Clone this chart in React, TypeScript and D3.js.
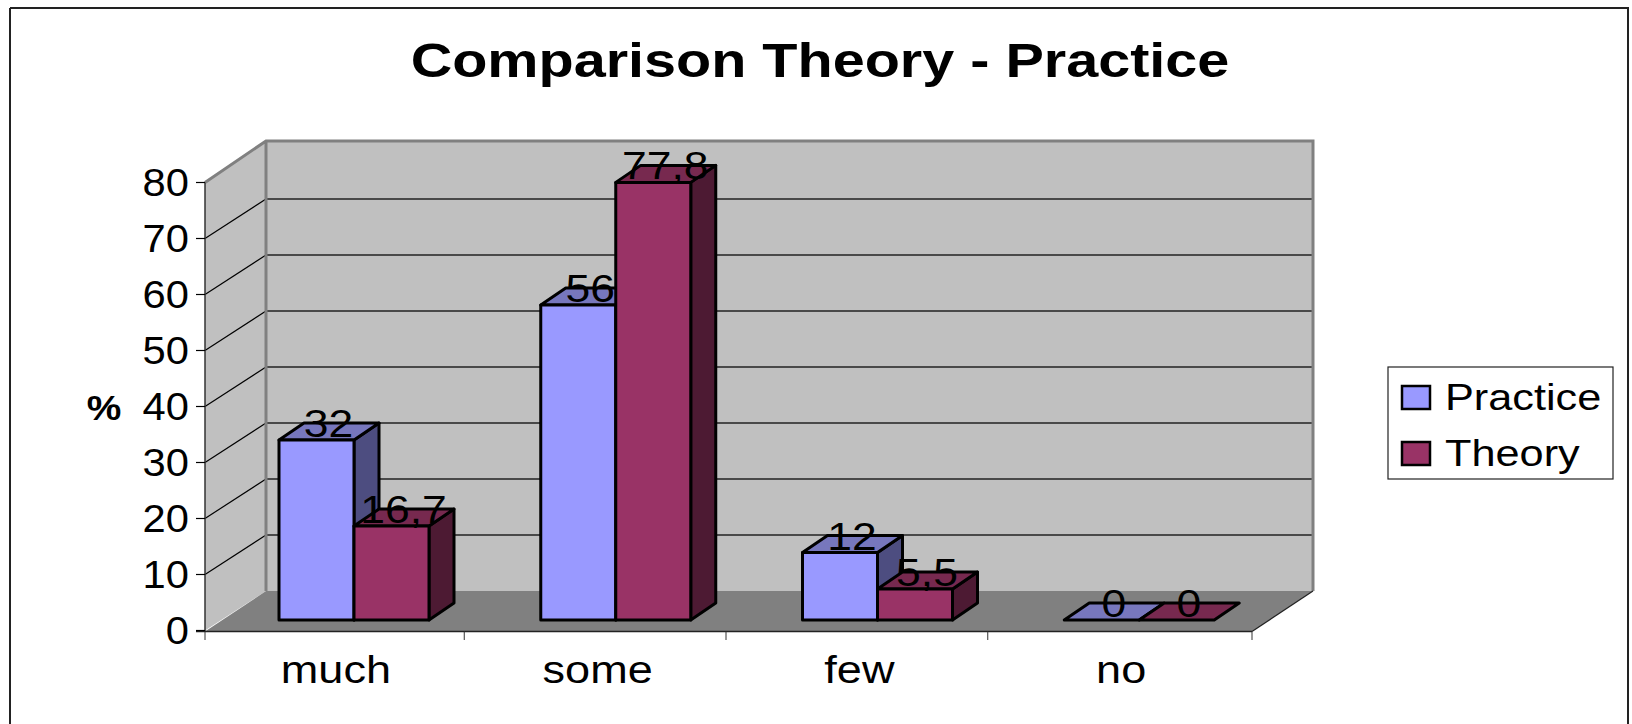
import React from "react";
import * as d3 from "d3";

const categories = ["much", "some", "few", "no"];
const seriesNames = ["Practice", "Theory"];
const practice = [32, 56, 12, 0];
const theory = [16.7, 77.8, 5.5, 0];
const labelsPractice = ["32", "56", "12", "0"];
const labelsTheory = ["16,7", "77,8", "5,5", "0"];
const yTicks = [0, 10, 20, 30, 40, 50, 60, 70, 80];

const faces = [
  { front: "#9999FF", top: "#7777BD", side: "#4D4D80" },
  { front: "#993366", top: "#77294F", side: "#4D1A33" },
];

const FONT = "'Liberation Sans', Arial, sans-serif";

const yFront = d3.scaleLinear().domain([0, 80]).range([630.5, 182.5]);
const yBack = d3.scaleLinear().domain([0, 80]).range([591, 143]);
const yBar = d3.scaleLinear().domain([0, 80]).range([620, 170]);
const xCat = d3.scaleBand<string>().domain(categories).range([205, 1252]);
const xSeries = d3.scaleBand<string>().domain(seriesNames).range([74, 224]);
const wallDx = 61;
const barDx = 25;
const barDy = 17;

function T({ x, y, size, anchor = "middle", weight = "normal", sx = 1.13, children }: any) {
  return (
    <text
      transform={`translate(${x},${y}) scale(${sx},1)`}
      fontFamily={FONT}
      fontSize={size}
      fontWeight={weight}
      textAnchor={anchor}
      fill="#000"
    >
      {children}
    </text>
  );
}

const pts = (p: number[][]) => p.map((q) => q.join(",")).join(" ");

export default function App() {
  const x0 = 205;
  const x1 = 1252;
  const back0 = x0 + wallDx;
  const back1 = x1 + wallDx;
  const series = [practice, theory];
  const labels = [labelsPractice, labelsTheory];
  const bars = categories.flatMap((c, i) =>
    seriesNames.map((s, j) => {
      const left = xCat(c)! + xSeries(s)!;
      return { key: c + s, j, left, right: left + xSeries.bandwidth(), v: series[j][i], label: labels[j][i] };
    })
  );
  return (
    <svg width={1632} height={724} style={{ position: "absolute", left: 0, top: 0, background: "#fff" }}>
      <path d="M10,8 H1628 V724 M10,8 V724" fill="none" stroke="#222" strokeWidth={2} />
      <T x={820} y={77} size={49} weight="bold" sx={1.175}>Comparison Theory - Practice</T>

      <polygon points={pts([[x0, yFront(80)], [back0, 141], [back1, 141], [back1, yBack(0)], [back0, yBack(0)], [x0, yFront(0)]])} fill="#C0C0C0" />
      {yTicks.slice(1, -1).map((t) => (
        <g key={t}>
          <line x1={x0} x2={back0} y1={yFront(t)} y2={yBack(t)} stroke="#000" strokeWidth={1.2} />
          <line x1={back0} x2={back1} y1={yBack(t)} y2={yBack(t)} stroke="#222" strokeWidth={1.4} />
        </g>
      ))}
      <polygon points={pts([[x0, yFront(0) + 1], [back0, yBack(0)], [back1, yBack(0)], [x1, yFront(0) + 1]])} fill="#808080" />
      <path d={`M${x0},${yFront(80)} L${back0},141 H${back1} V${yBack(0)} M${back0},141 V${yBack(0)}`} fill="none" stroke="#808080" strokeWidth={3} />
      <line x1={x1} y1={yFront(0) + 1} x2={back1} y2={yBack(0)} stroke="#222" strokeWidth={1.2} />

      <line x1={x0} x2={x0} y1={yFront(80)} y2={yFront(0) + 1} stroke="#333" strokeWidth={1.5} />
      <line x1={x0 - 9} x2={x1} y1={yFront(0) + 1} y2={yFront(0) + 1} stroke="#222" strokeWidth={1.5} />
      {yTicks.map((t) => (
        <g key={t}>
          <line x1={x0 - 9} x2={x0} y1={yFront(t)} y2={yFront(t)} stroke="#000" strokeWidth={1.2} />
          <T x={189} y={yFront(t) + 13} size={39} anchor="end" sx={1.07}>{t}</T>
        </g>
      ))}
      <T x={104} y={420} size={36} weight="bold" sx={1.08}>%</T>

      {[0, 1, 2, 3, 4].map((i) => {
        const x = x0 + (i * (x1 - x0)) / 4 - (i > 0 && i < 4 ? 2.5 : 0);
        return <line key={i} x1={x} x2={x} y1={yFront(0) + 1} y2={640} stroke="#333" strokeWidth={1} />;
      })}
      {categories.map((c) => (
        <T key={c} x={xCat(c)! + xCat.bandwidth() / 2} y={683} size={39} sx={1.155}>{c}</T>
      ))}

      {bars.map((b) => {
        const top = yBar(b.v);
        const base = yBar(0);
        return (
          <g key={b.key} stroke="#000" strokeWidth={3} strokeLinejoin="round">
            {b.v > 0 && <polygon points={pts([[b.right, top], [b.right + barDx, top - barDy], [b.right + barDx, base - barDy], [b.right, base]])} fill={faces[b.j].side} />}
            <polygon points={pts([[b.left, top], [b.left + barDx, top - barDy], [b.right + barDx, top - barDy], [b.right, top]])} fill={faces[b.j].top} />
            {b.v > 0 && <rect x={b.left} y={top} width={b.right - b.left} height={base - top} fill={faces[b.j].front} />}
          </g>
        );
      })}
      {bars.map((b) => (
        <T key={b.key} x={(b.left + b.right) / 2 + 12} y={yBar(b.v) - 3} size={39} sx={1.14}>{b.label}</T>
      ))}

      <rect x={1388} y={367} width={225} height={112} fill="#fff" stroke="#222" strokeWidth={1.2} />
      {seriesNames.map((s, j) => (
        <g key={s}>
          <rect x={1402} y={386 + j * 56} width={28} height={23} fill={faces[j].front} stroke="#000" strokeWidth={2.5} />
          <T x={1445} y={410 + j * 56} size={37} anchor="start" sx={1.17}>{s}</T>
        </g>
      ))}
    </svg>
  );
}
